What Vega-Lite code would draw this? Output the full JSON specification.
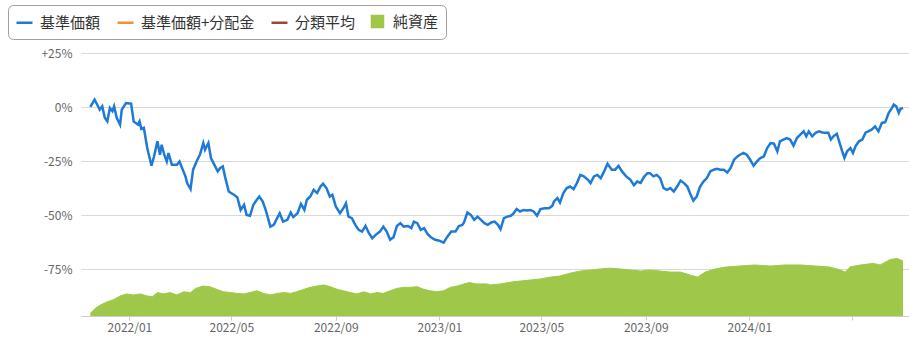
{
  "$schema": "https://vega.github.io/schema/vega-lite/v6.json",
  "width": 828,
  "height": 263,
  "autosize": {"type": "none"},
  "padding": {"left": 81, "top": 53, "right": 0, "bottom": 23},
  "background": "#ffffff",
  "config": {
    "view": {"stroke": null},
    "font": "Noto Sans CJK JP",
    "axis": {"labelFont": "Noto Sans CJK JP", "labelColor": "#666666", "labelFontSize": 12}
  },
  "datasets": {
    "nav": [
      {"date": "2021-11-16", "v": 0.1}, {"date": "2021-11-21", "v": 3.5}, {"date": "2021-11-24", "v": 1.2}, {"date": "2021-11-27", "v": -1.2}, {"date": "2021-11-30", "v": 0.4},
      {"date": "2021-12-03", "v": -4.9}, {"date": "2021-12-06", "v": -6.6}, {"date": "2021-12-09", "v": -0.4}, {"date": "2021-12-12", "v": -1.9}, {"date": "2021-12-14", "v": 0.4},
      {"date": "2021-12-17", "v": -4.9}, {"date": "2021-12-21", "v": -8.1}, {"date": "2021-12-23", "v": -1.2}, {"date": "2021-12-28", "v": 1.9}, {"date": "2022-01-03", "v": 1.6},
      {"date": "2022-01-06", "v": -6.6}, {"date": "2022-01-11", "v": -8.1}, {"date": "2022-01-13", "v": -6.6}, {"date": "2022-01-15", "v": -10.1}, {"date": "2022-01-18", "v": -9.6},
      {"date": "2022-01-22", "v": -18.9}, {"date": "2022-01-27", "v": -27.1}, {"date": "2022-01-30", "v": -22.8}, {"date": "2022-02-03", "v": -15.8}, {"date": "2022-02-06", "v": -22.0},
      {"date": "2022-02-08", "v": -17.4}, {"date": "2022-02-11", "v": -22.0}, {"date": "2022-02-14", "v": -25.1}, {"date": "2022-02-16", "v": -21.2}, {"date": "2022-02-20", "v": -26.6},
      {"date": "2022-02-26", "v": -26.6}, {"date": "2022-03-01", "v": -25.1}, {"date": "2022-03-04", "v": -28.1}, {"date": "2022-03-08", "v": -32.0}, {"date": "2022-03-10", "v": -35.1},
      {"date": "2022-03-14", "v": -37.9}, {"date": "2022-03-17", "v": -28.9}, {"date": "2022-03-22", "v": -24.3}, {"date": "2022-03-25", "v": -22.0}, {"date": "2022-03-29", "v": -16.6},
      {"date": "2022-03-31", "v": -19.7}, {"date": "2022-04-04", "v": -16.6}, {"date": "2022-04-07", "v": -23.5}, {"date": "2022-04-12", "v": -27.4}, {"date": "2022-04-15", "v": -29.7},
      {"date": "2022-04-18", "v": -28.1}, {"date": "2022-04-21", "v": -27.4}, {"date": "2022-04-24", "v": -32.8}, {"date": "2022-04-28", "v": -39.0}, {"date": "2022-05-04", "v": -40.5},
      {"date": "2022-05-08", "v": -41.6}, {"date": "2022-05-12", "v": -47.5}, {"date": "2022-05-16", "v": -45.1}, {"date": "2022-05-19", "v": -49.8}, {"date": "2022-05-23", "v": -50.2},
      {"date": "2022-05-27", "v": -45.1}, {"date": "2022-05-31", "v": -42.8}, {"date": "2022-06-03", "v": -41.3}, {"date": "2022-06-07", "v": -43.6}, {"date": "2022-06-11", "v": -48.2},
      {"date": "2022-06-16", "v": -55.2}, {"date": "2022-06-20", "v": -54.4}, {"date": "2022-06-24", "v": -51.3}, {"date": "2022-06-27", "v": -49.0}, {"date": "2022-07-01", "v": -52.9},
      {"date": "2022-07-06", "v": -52.1}, {"date": "2022-07-10", "v": -48.7}, {"date": "2022-07-13", "v": -50.8}, {"date": "2022-07-18", "v": -49.0}, {"date": "2022-07-22", "v": -44.7},
      {"date": "2022-07-26", "v": -47.5}, {"date": "2022-07-29", "v": -42.8}, {"date": "2022-08-02", "v": -41.3}, {"date": "2022-08-06", "v": -38.2}, {"date": "2022-08-10", "v": -39.7},
      {"date": "2022-08-14", "v": -36.7}, {"date": "2022-08-17", "v": -35.4}, {"date": "2022-08-21", "v": -37.4}, {"date": "2022-08-25", "v": -41.3}, {"date": "2022-08-28", "v": -40.5},
      {"date": "2022-09-01", "v": -45.9}, {"date": "2022-09-06", "v": -49.0}, {"date": "2022-09-10", "v": -46.7}, {"date": "2022-09-13", "v": -44.4}, {"date": "2022-09-16", "v": -50.6},
      {"date": "2022-09-20", "v": -51.3}, {"date": "2022-09-24", "v": -54.4}, {"date": "2022-09-28", "v": -56.7}, {"date": "2022-10-02", "v": -57.5}, {"date": "2022-10-06", "v": -54.9},
      {"date": "2022-10-10", "v": -58.2}, {"date": "2022-10-14", "v": -60.6}, {"date": "2022-10-18", "v": -59.0}, {"date": "2022-10-23", "v": -57.5}, {"date": "2022-10-27", "v": -55.2},
      {"date": "2022-10-31", "v": -57.5}, {"date": "2022-11-04", "v": -61.3}, {"date": "2022-11-08", "v": -60.1}, {"date": "2022-11-12", "v": -54.9}, {"date": "2022-11-16", "v": -53.6},
      {"date": "2022-11-20", "v": -55.2}, {"date": "2022-11-25", "v": -54.9}, {"date": "2022-11-29", "v": -55.9}, {"date": "2022-12-02", "v": -52.9}, {"date": "2022-12-06", "v": -53.6},
      {"date": "2022-12-10", "v": -56.7}, {"date": "2022-12-14", "v": -55.9}, {"date": "2022-12-18", "v": -58.6}, {"date": "2022-12-22", "v": -60.1}, {"date": "2022-12-27", "v": -61.3},
      {"date": "2023-01-01", "v": -61.7}, {"date": "2023-01-06", "v": -62.6}, {"date": "2023-01-10", "v": -60.1}, {"date": "2023-01-15", "v": -57.5}, {"date": "2023-01-20", "v": -57.5},
      {"date": "2023-01-24", "v": -54.9}, {"date": "2023-01-28", "v": -54.4}, {"date": "2023-01-30", "v": -53.3}, {"date": "2023-02-03", "v": -48.7}, {"date": "2023-02-07", "v": -49.8},
      {"date": "2023-02-11", "v": -52.1}, {"date": "2023-02-15", "v": -50.6}, {"date": "2023-02-19", "v": -52.1}, {"date": "2023-02-23", "v": -53.6}, {"date": "2023-02-27", "v": -54.4},
      {"date": "2023-03-03", "v": -53.3}, {"date": "2023-03-07", "v": -52.9}, {"date": "2023-03-11", "v": -54.4}, {"date": "2023-03-14", "v": -56.4}, {"date": "2023-03-18", "v": -51.3},
      {"date": "2023-03-22", "v": -50.6}, {"date": "2023-03-26", "v": -50.2}, {"date": "2023-03-29", "v": -49.3}, {"date": "2023-04-02", "v": -47.1}, {"date": "2023-04-06", "v": -48.2},
      {"date": "2023-04-10", "v": -47.5}, {"date": "2023-04-14", "v": -47.8}, {"date": "2023-04-18", "v": -47.5}, {"date": "2023-04-22", "v": -48.2}, {"date": "2023-04-26", "v": -50.2},
      {"date": "2023-04-30", "v": -47.1}, {"date": "2023-05-05", "v": -46.7}, {"date": "2023-05-10", "v": -46.7}, {"date": "2023-05-14", "v": -45.6}, {"date": "2023-05-16", "v": -43.6},
      {"date": "2023-05-20", "v": -42.0}, {"date": "2023-05-23", "v": -44.1}, {"date": "2023-05-27", "v": -39.7}, {"date": "2023-05-31", "v": -37.4}, {"date": "2023-06-04", "v": -36.7},
      {"date": "2023-06-08", "v": -37.9}, {"date": "2023-06-12", "v": -35.1}, {"date": "2023-06-16", "v": -31.3}, {"date": "2023-06-20", "v": -32.0}, {"date": "2023-06-25", "v": -33.6},
      {"date": "2023-06-28", "v": -35.1}, {"date": "2023-07-02", "v": -32.0}, {"date": "2023-07-06", "v": -31.3}, {"date": "2023-07-10", "v": -32.8}, {"date": "2023-07-14", "v": -29.7},
      {"date": "2023-07-18", "v": -26.2}, {"date": "2023-07-23", "v": -28.9}, {"date": "2023-07-27", "v": -28.9}, {"date": "2023-07-31", "v": -27.1}, {"date": "2023-08-04", "v": -29.7},
      {"date": "2023-08-09", "v": -32.0}, {"date": "2023-08-14", "v": -33.6}, {"date": "2023-08-18", "v": -36.1}, {"date": "2023-08-22", "v": -34.4}, {"date": "2023-08-26", "v": -35.0},
      {"date": "2023-08-30", "v": -32.2}, {"date": "2023-09-03", "v": -30.5}, {"date": "2023-09-06", "v": -30.5}, {"date": "2023-09-10", "v": -32.0}, {"date": "2023-09-14", "v": -31.3},
      {"date": "2023-09-18", "v": -32.8}, {"date": "2023-09-22", "v": -37.4}, {"date": "2023-09-26", "v": -38.2}, {"date": "2023-09-30", "v": -37.4}, {"date": "2023-10-04", "v": -39.0},
      {"date": "2023-10-08", "v": -36.7}, {"date": "2023-10-12", "v": -33.9}, {"date": "2023-10-16", "v": -35.1}, {"date": "2023-10-20", "v": -36.7}, {"date": "2023-10-23", "v": -39.7},
      {"date": "2023-10-27", "v": -43.2}, {"date": "2023-10-31", "v": -41.3}, {"date": "2023-11-04", "v": -36.7}, {"date": "2023-11-08", "v": -34.4}, {"date": "2023-11-12", "v": -32.8},
      {"date": "2023-11-16", "v": -29.7}, {"date": "2023-11-20", "v": -28.9}, {"date": "2023-11-24", "v": -28.5}, {"date": "2023-11-28", "v": -28.9}, {"date": "2023-12-02", "v": -28.9},
      {"date": "2023-12-06", "v": -30.2}, {"date": "2023-12-10", "v": -28.1}, {"date": "2023-12-14", "v": -24.3}, {"date": "2023-12-18", "v": -22.8}, {"date": "2023-12-21", "v": -22.0},
      {"date": "2023-12-25", "v": -21.2}, {"date": "2023-12-29", "v": -22.0}, {"date": "2024-01-02", "v": -24.3}, {"date": "2024-01-06", "v": -27.1}, {"date": "2024-01-10", "v": -25.1},
      {"date": "2024-01-14", "v": -23.5}, {"date": "2024-01-18", "v": -22.8}, {"date": "2024-01-22", "v": -18.9}, {"date": "2024-01-26", "v": -16.6}, {"date": "2024-01-30", "v": -16.9},
      {"date": "2024-02-03", "v": -20.5}, {"date": "2024-02-06", "v": -15.8}, {"date": "2024-02-10", "v": -15.0}, {"date": "2024-02-14", "v": -14.3}, {"date": "2024-02-18", "v": -15.0},
      {"date": "2024-02-22", "v": -17.8}, {"date": "2024-02-26", "v": -14.3}, {"date": "2024-03-01", "v": -12.7}, {"date": "2024-03-05", "v": -11.2}, {"date": "2024-03-08", "v": -13.5},
      {"date": "2024-03-11", "v": -11.2}, {"date": "2024-03-15", "v": -13.5}, {"date": "2024-03-19", "v": -11.9}, {"date": "2024-03-23", "v": -11.2}, {"date": "2024-03-27", "v": -11.7},
      {"date": "2024-03-30", "v": -11.9}, {"date": "2024-04-03", "v": -11.9}, {"date": "2024-04-06", "v": -15.0}, {"date": "2024-04-09", "v": -13.5}, {"date": "2024-04-13", "v": -12.3},
      {"date": "2024-04-17", "v": -17.4}, {"date": "2024-04-20", "v": -21.2}, {"date": "2024-04-22", "v": -23.5}, {"date": "2024-04-25", "v": -20.5}, {"date": "2024-04-29", "v": -18.9},
      {"date": "2024-05-02", "v": -21.2}, {"date": "2024-05-05", "v": -18.1}, {"date": "2024-05-09", "v": -15.8}, {"date": "2024-05-13", "v": -15.0}, {"date": "2024-05-17", "v": -11.7},
      {"date": "2024-05-20", "v": -11.2}, {"date": "2024-05-24", "v": -10.4}, {"date": "2024-05-28", "v": -8.9}, {"date": "2024-06-01", "v": -11.2}, {"date": "2024-06-05", "v": -7.3},
      {"date": "2024-06-09", "v": -7.0}, {"date": "2024-06-13", "v": -2.7}, {"date": "2024-06-17", "v": -0.4}, {"date": "2024-06-19", "v": 1.2}, {"date": "2024-06-22", "v": 0.4},
      {"date": "2024-06-25", "v": -2.7}, {"date": "2024-06-27", "v": -0.8}, {"date": "2024-06-30", "v": -0.4}
    ],
    "assets": [
      {"date": "2021-11-16", "a": 10}, {"date": "2021-11-22", "a": 29}, {"date": "2021-11-28", "a": 42}, {"date": "2021-12-06", "a": 54}, {"date": "2021-12-14", "a": 63},
      {"date": "2021-12-21", "a": 76}, {"date": "2021-12-29", "a": 84}, {"date": "2022-01-06", "a": 80}, {"date": "2022-01-14", "a": 84}, {"date": "2022-01-22", "a": 76},
      {"date": "2022-01-28", "a": 73}, {"date": "2022-02-03", "a": 89}, {"date": "2022-02-10", "a": 84}, {"date": "2022-02-18", "a": 89}, {"date": "2022-02-26", "a": 80},
      {"date": "2022-03-06", "a": 92}, {"date": "2022-03-14", "a": 89}, {"date": "2022-03-20", "a": 105}, {"date": "2022-03-29", "a": 114}, {"date": "2022-04-06", "a": 111},
      {"date": "2022-04-14", "a": 101}, {"date": "2022-04-22", "a": 92}, {"date": "2022-04-30", "a": 89}, {"date": "2022-05-08", "a": 86}, {"date": "2022-05-16", "a": 84},
      {"date": "2022-05-23", "a": 89}, {"date": "2022-05-31", "a": 96}, {"date": "2022-06-08", "a": 86}, {"date": "2022-06-16", "a": 80}, {"date": "2022-06-24", "a": 86},
      {"date": "2022-07-02", "a": 89}, {"date": "2022-07-10", "a": 86}, {"date": "2022-07-17", "a": 92}, {"date": "2022-07-25", "a": 101}, {"date": "2022-08-02", "a": 109},
      {"date": "2022-08-10", "a": 114}, {"date": "2022-08-18", "a": 118}, {"date": "2022-08-26", "a": 111}, {"date": "2022-09-03", "a": 101}, {"date": "2022-09-10", "a": 96},
      {"date": "2022-09-18", "a": 89}, {"date": "2022-09-26", "a": 84}, {"date": "2022-10-04", "a": 92}, {"date": "2022-10-12", "a": 84}, {"date": "2022-10-20", "a": 89},
      {"date": "2022-10-27", "a": 86}, {"date": "2022-11-04", "a": 96}, {"date": "2022-11-12", "a": 105}, {"date": "2022-11-20", "a": 109}, {"date": "2022-11-28", "a": 109},
      {"date": "2022-12-06", "a": 111}, {"date": "2022-12-14", "a": 101}, {"date": "2022-12-21", "a": 96}, {"date": "2022-12-29", "a": 92}, {"date": "2023-01-06", "a": 96},
      {"date": "2023-01-14", "a": 109}, {"date": "2023-01-22", "a": 114}, {"date": "2023-01-30", "a": 122}, {"date": "2023-02-05", "a": 127}, {"date": "2023-02-14", "a": 122},
      {"date": "2023-02-26", "a": 122}, {"date": "2023-03-02", "a": 118}, {"date": "2023-03-14", "a": 122}, {"date": "2023-03-29", "a": 130}, {"date": "2023-04-18", "a": 137},
      {"date": "2023-04-30", "a": 141}, {"date": "2023-05-12", "a": 148}, {"date": "2023-05-23", "a": 152}, {"date": "2023-06-04", "a": 163}, {"date": "2023-06-16", "a": 171},
      {"date": "2023-06-28", "a": 175}, {"date": "2023-07-10", "a": 179}, {"date": "2023-07-21", "a": 182}, {"date": "2023-08-02", "a": 179}, {"date": "2023-08-14", "a": 175},
      {"date": "2023-08-26", "a": 171}, {"date": "2023-09-06", "a": 175}, {"date": "2023-09-18", "a": 171}, {"date": "2023-09-30", "a": 167}, {"date": "2023-10-12", "a": 167},
      {"date": "2023-10-23", "a": 156}, {"date": "2023-11-01", "a": 148}, {"date": "2023-11-10", "a": 167}, {"date": "2023-11-22", "a": 179}, {"date": "2023-12-04", "a": 186},
      {"date": "2023-12-21", "a": 190}, {"date": "2024-01-07", "a": 194}, {"date": "2024-01-26", "a": 190}, {"date": "2024-02-12", "a": 194}, {"date": "2024-03-01", "a": 194},
      {"date": "2024-03-19", "a": 190}, {"date": "2024-04-05", "a": 186}, {"date": "2024-04-17", "a": 175}, {"date": "2024-04-23", "a": 167}, {"date": "2024-04-29", "a": 187},
      {"date": "2024-05-11", "a": 194}, {"date": "2024-05-26", "a": 200}, {"date": "2024-06-03", "a": 194}, {"date": "2024-06-15", "a": 215}, {"date": "2024-06-23", "a": 219},
      {"date": "2024-06-30", "a": 209}
    ]
  },
  "layer": [
    {
      "data": {"name": "assets"},
      "mark": {"type": "area", "color": "#9fc84a", "opacity": 1, "line": {"color": "#8fbc3a", "strokeWidth": 1}},
      "encoding": {
        "x": {"field": "date", "type": "temporal"},
        "y": {"field": "a", "type": "quantitative", "scale": {"domain": [0, 1000], "nice": false, "zero": true}, "axis": null},
        "color": {"datum": "純資産"}
      }
    },
    {
      "data": {"name": "nav"},
      "mark": {"type": "line", "strokeWidth": 2.5, "interpolate": "linear"},
      "encoding": {
        "x": {
          "field": "date", "type": "temporal",
          "scale": {"type": "utc", "domain": [{"year": 2021, "month": 11, "date": 5, "utc": true}, {"year": 2024, "month": 7, "date": 7, "utc": true}], "nice": false},
          "axis": {
            "title": null,
            "values": [
              {"year": 2022, "month": 1, "date": 1, "utc": true}, {"year": 2022, "month": 5, "date": 1, "utc": true},
              {"year": 2022, "month": 9, "date": 1, "utc": true}, {"year": 2023, "month": 1, "date": 1, "utc": true},
              {"year": 2023, "month": 5, "date": 1, "utc": true}, {"year": 2023, "month": 9, "date": 1, "utc": true},
              {"year": 2024, "month": 1, "date": 1, "utc": true}, {"year": 2024, "month": 5, "date": 1, "utc": true}
            ],
            "labelExpr": "utcFormat(datum.value, '%Y/%m') === '2024/05' ? '' : utcFormat(datum.value, '%Y/%m')",
            "grid": false,
            "domain": true, "domainColor": "#cccccc", "domainWidth": 1,
            "ticks": true, "tickColor": "#cccccc", "tickSize": 4,
            "labelPadding": 2, "labelFontSize": 12, "labelFlush": false
          }
        },
        "y": {
          "field": "v", "type": "quantitative",
          "scale": {"domain": [-96.5, 25], "nice": false, "zero": false},
          "axis": {
            "title": null,
            "values": [25, 0, -25, -50, -75],
            "labelExpr": "datum.value > 0 ? '+' + datum.value + '%' : datum.value + '%'",
            "grid": true, "gridColor": "#d9d9d9", "gridWidth": 1,
            "domain": false, "ticks": false, "labelPadding": 9, "labelFontSize": 12
          }
        },
        "color": {
          "datum": "基準価額",
          "scale": {
            "domain": ["基準価額", "基準価額+分配金", "分類平均", "純資産"],
            "range": ["#1f7ad6", "#f0913a", "#a0453c", "#9fc84a"]
          },
          "legend": {
            "title": null,
            "orient": "none",
            "legendX": -73,
            "legendY": -48,
            "direction": "horizontal",
            "strokeColor": "#a0a0a0",
            "cornerRadius": 5,
            "padding": 7,
            "columnPadding": 11,
            "symbolSize": 256,
            "symbolOffset": 0,
            "labelOffset": 6,
            "labelFont": "Noto Sans CJK JP",
            "labelFontSize": 15,
            "labelColor": "#333333",
            "labelLimit": 300,
            "encode": {
              "symbols": {
                "update": {
                  "shape": {"signal": "datum.value === '純資産' ? 'square' : 'stroke'"},
                  "size": {"signal": "datum.value === '純資産' ? 121 : 256"},
                  "fill": {"signal": "datum.value === '純資産' ? '#9fc84a' : 'transparent'"},
                  "stroke": {"signal": "datum.value === '純資産' ? 'transparent' : scale('color', datum.value)"},
                  "strokeWidth": {"value": 2.5},
                  "opacity": {"value": 1}
                }
              }
            }
          }
        }
      }
    }
  ],
  "resolve": {"scale": {"y": "independent"}}
}
